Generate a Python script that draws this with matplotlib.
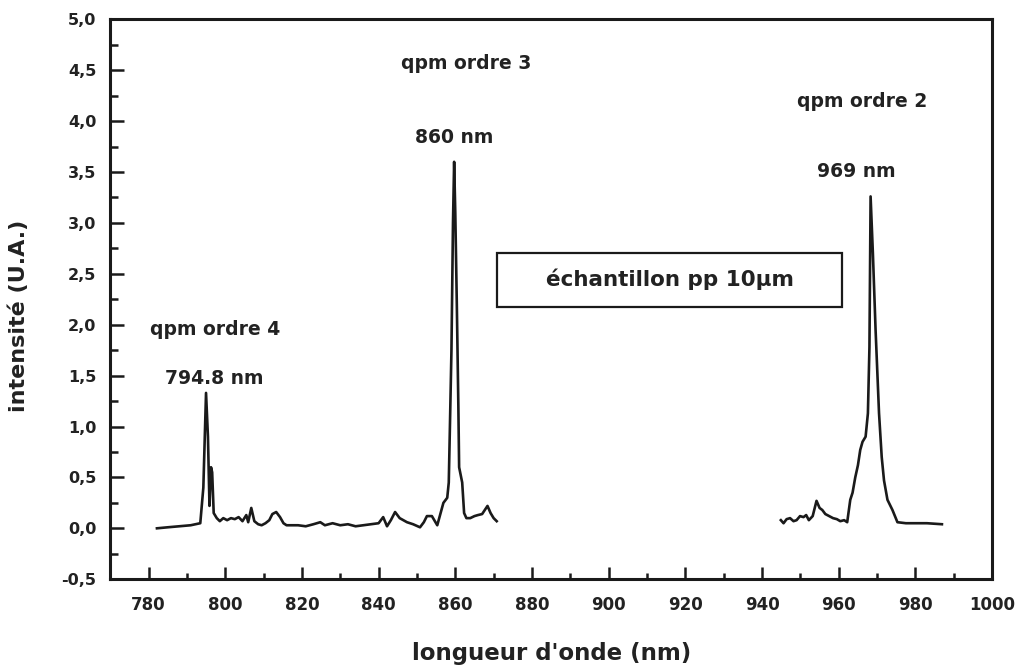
import matplotlib
matplotlib.use('Agg')
import matplotlib.pyplot as plt
from matplotlib.ticker import MultipleLocator, FuncFormatter
from matplotlib.patches import Rectangle

# spectre 1 : ordres 4 et 3
wl_a = [782.2, 785, 788, 791, 793.5, 794.3, 795.0, 795.5, 795.9, 796.3, 796.6, 797.0,
        797.8, 798.6, 799.5, 800.5, 801.5, 802.5, 803.5, 804.5, 805.5, 806.0, 806.8,
        807.6, 808.6, 809.5, 810.5, 811.5, 812.3, 813.3, 814.3, 815.2, 816.0, 817.5,
        819, 821, 823, 824.8, 826, 828, 830, 832, 834, 836, 838, 840, 841.2, 842.2,
        843.2, 844.3, 845.5, 847.4, 849, 850.8, 851.8, 852.6, 853.9, 855.3, 856.9,
        857.9, 858.3, 858.6, 859.0, 859.4, 859.7, 860.0, 860.4, 860.8, 861.0, 861.8,
        862.3, 862.9, 863.9, 865.0, 865.9, 867.0, 868.4, 869.2, 870.0, 870.8]
int_a = [0.00, 0.01, 0.02, 0.03, 0.05, 0.40, 1.33, 0.90, 0.22, 0.60, 0.55, 0.15,
         0.10, 0.07, 0.10, 0.08, 0.10, 0.09, 0.11, 0.07, 0.13, 0.06, 0.20,
         0.07, 0.04, 0.03, 0.05, 0.08, 0.14, 0.16, 0.11, 0.05, 0.03, 0.03,
         0.03, 0.02, 0.04, 0.06, 0.03, 0.05, 0.03, 0.04, 0.02, 0.03, 0.04, 0.05, 0.11, 0.02,
         0.08, 0.16, 0.10, 0.06, 0.04, 0.01, 0.06, 0.12, 0.12, 0.03, 0.25,
         0.30, 0.45, 1.00, 1.75, 3.00, 3.60, 3.10, 2.20, 1.20, 0.60, 0.45,
         0.15, 0.10, 0.10, 0.12, 0.13, 0.14, 0.22, 0.15, 0.10, 0.07]

# spectre 2 : ordre 2
wl_b = [944.9, 945.6, 946.4, 947.3, 948.2, 949.0, 949.9, 950.8, 951.5, 952.2, 953.2,
        954.2, 955.0, 955.7, 956.5, 957.5, 958.5, 959.5, 960.4, 961.4, 962.2, 963.0,
        963.6, 964.3, 965.0, 965.6, 966.2, 967.0, 967.6, 968.0, 968.3, 968.9, 969.6,
        970.5, 971.2, 971.8, 972.7, 974.0, 975.3, 977.5, 980, 983, 986.9]
int_b = [0.08, 0.05, 0.09, 0.10, 0.07, 0.08, 0.12, 0.11, 0.13, 0.08, 0.12,
         0.27, 0.20, 0.18, 0.14, 0.12, 0.10, 0.09, 0.07, 0.08, 0.06, 0.28,
         0.35, 0.50, 0.62, 0.77, 0.85, 0.90, 1.13, 1.78, 3.26, 2.70, 1.95,
         1.13, 0.70, 0.47, 0.28, 0.18, 0.06, 0.05, 0.05, 0.05, 0.04]

peak_labels = [('qpm ordre 4', 797.4, 1.95), ('794.8 nm', 797.1, 1.47),
               ('qpm ordre 3', 862.8, 4.57), ('860 nm', 859.7, 3.84),
               ('qpm ordre 2', 966.1, 4.19), ('969 nm', 964.5, 3.50)]

plt.rcParams['font.family'] = ['DejaVu Sans']
plt.rcParams['font.weight'] = 'bold'

fig = plt.figure(figsize=(10.2, 6.65), dpi=100)
ax = fig.add_axes([0.108, 0.129, 0.8647, 0.842])

ax.plot(wl_a, int_a, color='#1a1a1a', lw=1.9)
ax.plot(wl_b, int_b, color='#1a1a1a', lw=1.9)

ax.set_xlim(770, 1000)
ax.set_ylim(-0.5, 5.0)
ax.xaxis.set_major_locator(MultipleLocator(20))
ax.xaxis.set_minor_locator(MultipleLocator(10))
ax.yaxis.set_major_locator(MultipleLocator(0.5))
ax.yaxis.set_minor_locator(MultipleLocator(0.25))
ax.xaxis.set_major_formatter(FuncFormatter(lambda v, p: '' if v < 780 else f'{v:.0f}'))
ax.yaxis.set_major_formatter(FuncFormatter(lambda v, p: f'{v:.1f}'.replace('.', ',')))

ax.tick_params(which='both', direction='in', top=False, right=False, color='#1a1a1a')
ax.tick_params(axis='x', which='major', length=8.5, width=1.8, pad=12, labelsize=12)
ax.tick_params(axis='x', which='minor', length=4.5, width=1.8)
ax.tick_params(axis='y', which='major', length=10, width=1.8, pad=10, labelsize=11.5)
ax.tick_params(axis='y', which='minor', length=6, width=1.8)
for lab in ax.get_xticklabels() + ax.get_yticklabels():
    lab.set_fontweight('bold')
    lab.set_color('#222222')
for s in ax.spines.values():
    s.set_linewidth(2.2)
    s.set_color('#1a1a1a')

ax.set_xlabel("longueur d'onde (nm)", fontsize=16.5, fontweight='bold', color='#222222')
ax.set_ylabel('intensité (U.A.)', fontsize=16, fontweight='bold', color='#222222')
ax.xaxis.set_label_coords(0.500, -0.112)
ax.yaxis.set_label_coords(-0.092, 0.47)

for txt, x, y in peak_labels:
    ax.text(x, y, txt, ha='center', va='center', fontsize=13.5, fontweight='bold', color='#222222')

ax.add_patch(Rectangle((0.4388, 0.486), 0.3912, 0.096, transform=ax.transAxes,
                       fill=False, lw=1.6, ec='#1a1a1a'))
ax.text(0.6344, 0.535, 'échantillon pp 10µm', transform=ax.transAxes, ha='center', va='center',
        fontsize=15.5, fontweight='bold', color='#222222')

fig.savefig('out.png', dpi=100)
